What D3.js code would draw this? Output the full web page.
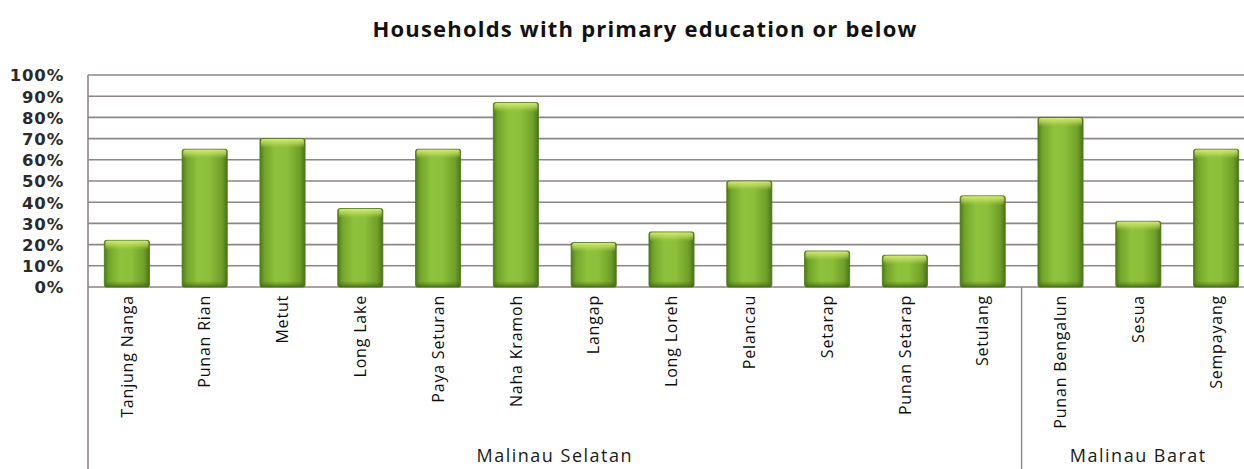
<!DOCTYPE html>
<html>
<head>
<meta charset="utf-8">
<script src="https://cdn.jsdelivr.net/npm/d3@7"></script>
<style>
  html, body { margin: 0; padding: 0; background: #fff; }
  svg { display: block; }
</style>
</head>
<body>
<svg id="chart" width="1244" height="469"></svg>
<script>
// Share of households whose head has primary education or below, by village
const villages = [
  "Tanjung Nanga", "Punan Rian", "Metut", "Long Lake", "Paya Seturan",
  "Naha Kramoh", "Langap", "Long Loreh", "Pelancau", "Setarap",
  "Punan Setarap", "Setulang", "Punan Bengalun", "Sesua", "Sempayang"
];
const shares = [22, 65, 70, 37, 65, 87, 21, 26, 50, 17, 15, 43, 80, 31, 65];
const districts = ["Malinau Selatan", "Malinau Barat"];
const districtSizes = [12, 3];
const yTicks = [0, 10, 20, 30, 40, 50, 60, 70, 80, 90, 100];
const chartTitle = "Households with primary education or below";

(function () {
const svg = d3.select("#chart");
const plotLeft = 88, plotRight = 1255, plotTop = 75, plotBottom = 287, axisBottom = 469;
const lineColor = "#8f8585";

const x = d3.scaleBand().domain(villages).range([plotLeft, plotRight])
  .paddingInner(0.42).paddingOuter(0.21);
const y = d3.scaleLinear().domain([0, 100]).range([plotBottom, plotTop]);

// gradients giving the bars their rounded, lit look
const defs = svg.append("defs");
const side = defs.append("linearGradient").attr("id", "barSide")
  .attr("x1", "0").attr("x2", "1").attr("y1", "0").attr("y2", "0");
[[0, "#4e7a18"], [0.1, "#72a42a"], [0.35, "#8fc23c"], [0.6, "#8cbf3a"],
 [0.88, "#6f9f28"], [1, "#4a7416"]].forEach(([o, c]) =>
  side.append("stop").attr("offset", o).attr("stop-color", c));
const topShine = defs.append("linearGradient").attr("id", "barTop")
  .attr("x1", "0").attr("x2", "0").attr("y1", "0").attr("y2", "1");
[[0, "#d9ec7a", 0.95], [0.5, "#c4e062", 0.6], [1, "#a6d04a", 0]].forEach(([o, c, a]) =>
  topShine.append("stop").attr("offset", o).attr("stop-color", c).attr("stop-opacity", a));
const bottomShade = defs.append("linearGradient").attr("id", "barBottom")
  .attr("x1", "0").attr("x2", "0").attr("y1", "0").attr("y2", "1");
[[0, "#4a7416", 0], [1, "#3f6512", 0.8]].forEach(([o, c, a]) =>
  bottomShade.append("stop").attr("offset", o).attr("stop-color", c).attr("stop-opacity", a));

// horizontal gridlines
svg.append("g")
  .selectAll("line").data(yTicks).join("line")
  .attr("x1", plotLeft).attr("x2", 1244)
  .attr("y1", d => y(d)).attr("y2", d => y(d))
  .attr("stroke", lineColor).attr("stroke-width", 1.6);

// y axis labels
const yAxis = d3.axisLeft(y).tickValues(yTicks).tickFormat(d => d + "%").tickSize(0).tickPadding(0);
svg.append("g").attr("transform", `translate(${plotLeft - 24},0)`).call(yAxis)
  .call(g => g.select(".domain").remove())
  .selectAll("text")
  .attr("font-family", "DejaVu Sans").attr("font-weight", "bold")
  .attr("font-size", 16.5).attr("letter-spacing", 0.8)
  .attr("fill", "#2a2a2a").attr("dy", "0.36em");

// bars
const bars = svg.append("g").selectAll("g").data(villages).join("g");
bars.append("rect")
  .attr("x", d => x(d)).attr("width", x.bandwidth())
  .attr("y", (d, i) => y(shares[i])).attr("height", (d, i) => plotBottom - y(shares[i]))
  .attr("rx", 2).attr("fill", "url(#barSide)")
  .attr("stroke", "#4b7517").attr("stroke-width", 0.8);
bars.append("rect")
  .attr("x", d => x(d) + 1).attr("width", x.bandwidth() - 2)
  .attr("y", (d, i) => y(shares[i]) + 0.5).attr("height", 9).attr("rx", 2)
  .attr("fill", "url(#barTop)");
bars.append("rect")
  .attr("x", d => x(d) + 1).attr("width", x.bandwidth() - 2)
  .attr("y", plotBottom - 6).attr("height", 6)
  .attr("fill", "url(#barBottom)");

// plot frame: left edge and the category box below the baseline
svg.append("line").attr("x1", plotLeft).attr("x2", plotLeft).attr("y1", plotTop).attr("y2", axisBottom)
  .attr("stroke", lineColor).attr("stroke-width", 1.6);
let start = 0;
districtSizes.forEach((n, k) => {
  start += n;
  if (k < districtSizes.length - 1) {
    const xs = x(villages[start]) - x.step() * x.paddingInner() / 2;
    svg.append("line").attr("x1", xs).attr("x2", xs).attr("y1", plotBottom).attr("y2", axisBottom)
      .attr("stroke", lineColor).attr("stroke-width", 1.4);
  }
});

// rotated village names
const xAxis = d3.axisBottom(x).tickSize(0).tickPadding(0);
svg.append("g").attr("transform", `translate(0,${plotBottom})`).call(xAxis)
  .call(g => g.select(".domain").remove())
  .selectAll("text")
  .attr("font-family", "Open Sans").attr("font-size", 16).attr("letter-spacing", 0.8)
  .attr("fill", "#0d0d0d")
  .attr("text-anchor", "end").attr("transform", "translate(0,8) rotate(-90)")
  .attr("x", 0).attr("y", 0).attr("dy", "0.36em");

// district names centred under their villages
let first = 0;
districts.forEach((name, k) => {
  const a = x(villages[first]) - x.step() * x.paddingInner() / 2;
  const last = first + districtSizes[k] - 1;
  const b = x(villages[last]) + x.bandwidth() + x.step() * x.paddingInner() / 2;
  svg.append("text").attr("x", (a + b) / 2).attr("y", 462)
    .attr("text-anchor", "middle").attr("font-family", "Open Sans")
    .attr("font-size", 18).attr("letter-spacing", 1.5)
    .attr("fill", "#1a1a1a").text(name);
  first = last + 1;
});

// title
svg.append("text").attr("x", 645).attr("y", 37).attr("text-anchor", "middle")
  .attr("font-family", "Open Sans").attr("font-weight", "bold")
  .attr("font-size", 22).attr("letter-spacing", 1.2)
  .attr("fill", "#111").text(chartTitle);
})();
</script>
</body>
</html>
